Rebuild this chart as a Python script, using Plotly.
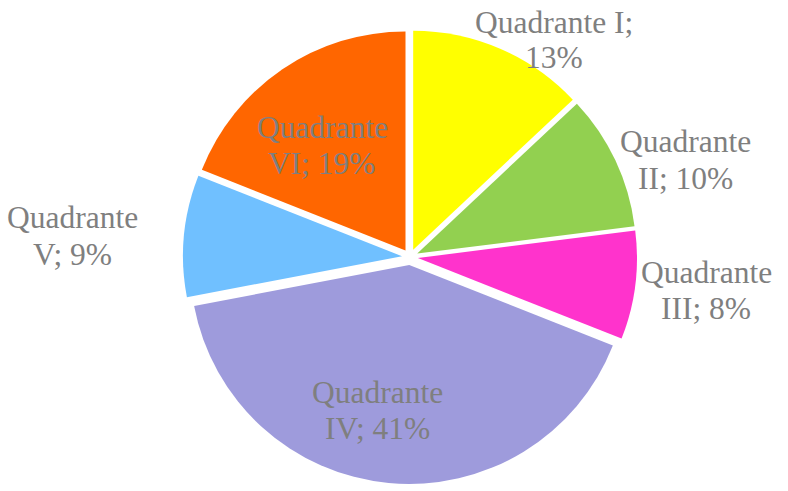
import plotly.graph_objects as go

# Data
categories = ["Quadrante I", "Quadrante II", "Quadrante III", "Quadrante IV", "Quadrante V", "Quadrante VI"]
short_names = ["I", "II", "III", "IV", "V", "VI"]
values = [13, 10, 8, 41, 9, 19]

# Styles
colors = ["#FFFF00", "#92D050", "#FF33CC", "#9E9BDC", "#70C0FF", "#FF6600"]
label_color = "#7F7F7F"
font_family = "Liberation Serif"
font_size = 31.5
line_gap = 36              # px between label lines

# Layout geometry (pixels)
W, H = 788, 491
cx, cy = 410, 257          # pie centre (px from top-left)
half = 227                 # half size of the pie domain (incl. pull)
pull = 0.0365

# Label text layout: lines and offsets (px) from pie centre
total = sum(values)
pcts = [round(100 * v / total) for v in values]
label_lines = [
    (f"Quadrante {short_names[0]};", f"{pcts[0]}%"),
] + [
    ("Quadrante", f"{n}; {p}%") for n, p in zip(short_names[1:], pcts[1:])
]
label_offsets = [(144, -217), (275, -97), (296, 33), (-33, 153), (-338, -21), (-88, -112)]

fig = go.Figure()
fig.add_trace(go.Pie(
    labels=categories,
    values=values,
    sort=False,
    direction="clockwise",
    rotation=0,
    pull=[pull] * len(values),
    marker=dict(colors=colors, line=dict(width=0)),
    textinfo="none",
    hoverinfo="label+percent",
    showlegend=False,
    domain=dict(x=[(cx - half) / W, (cx + half) / W],
                y=[(H - cy - half) / H, (H - cy + half) / H]),
))

for lines, (dx, dy) in zip(label_lines, label_offsets):
    for i, line in enumerate(lines):
        yy = cy + dy + (i - 0.5) * line_gap
        fig.add_annotation(
            x=(cx + dx) / W, y=1 - yy / H,
            xref="paper", yref="paper",
            text=line, showarrow=False,
            xanchor="center", yanchor="middle", align="center",
            font=dict(family=font_family, size=font_size, color=label_color),
        )

fig.update_layout(
    width=W, height=H,
    margin=dict(l=0, r=0, t=0, b=0),
    paper_bgcolor="white",
    plot_bgcolor="white",
    font=dict(family=font_family),
)

fig.write_html("out.html", config={"displayModeBar": False},
               post_script="document.body.style.margin='0';")
